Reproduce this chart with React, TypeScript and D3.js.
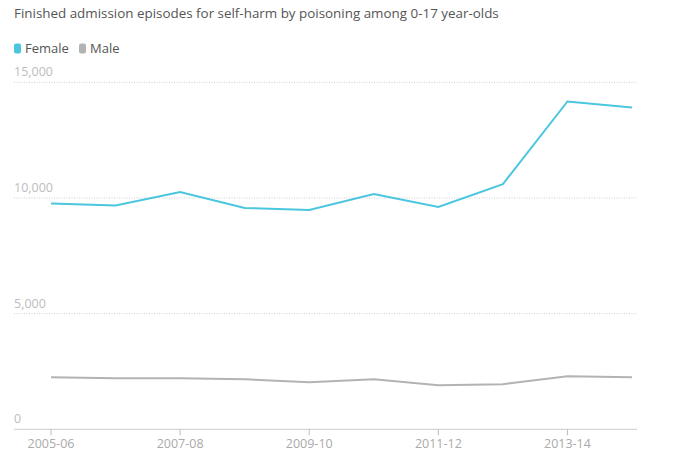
import React from 'react';
import * as d3 from 'd3';

const years = ['2005-06', '2006-07', '2007-08', '2008-09', '2009-10', '2010-11', '2011-12', '2012-13', '2013-14', '2014-15'];
const female = [9760, 9670, 10260, 9570, 9480, 10170, 9610, 10600, 14170, 13910];
const male = [2250, 2210, 2210, 2160, 2030, 2160, 1900, 1950, 2290, 2250];
const yTicks = [0, 5000, 10000, 15000];
const xTickLabels = ['2005-06', '2007-08', '2009-10', '2011-12', '2013-14'];

const W = 675;
const H = 459;
const FONT = '"Open Sans", "DejaVu Sans", sans-serif';

export default function App() {
    const left = 14;
    const right = 637;
    const x = d3.scalePoint<string>()
        .domain(years)
        .range([51, 632]);
    const y = d3.scaleLinear()
        .domain([0, 15000])
        .range([429.3, 82.3]);

    const line = d3.line<number>()
        .x((_, i) => x(years[i]) as number)
        .y(d => y(d));

    const fmt = d3.format(',');

    return (
        <svg width={W} height={H} style={{ position: 'absolute', left: 0, top: 0, fontFamily: FONT }}>
            <rect width={W} height={H} fill="#fff" />
            <text x={14} y={18} fontSize={13.4} fill="#555">Finished admission episodes for self-harm by poisoning among 0-17 year-olds</text>

            {/* legend */}
            <rect x={14} y={43.5} width={7} height={10} rx={2} fill="#4bc6df" />
            <text x={25} y={53} fontSize={13} fill="#555">Female</text>
            <rect x={79} y={43.5} width={7} height={10} rx={2} fill="#b3b3b3" />
            <text x={90} y={53} fontSize={13} fill="#555">Male</text>

            {/* grid */}
            {yTicks.map(t => (
                <g key={t}>
                    {t > 0 && (
                        <line x1={left} x2={right} y1={y(t)} y2={y(t)} stroke="#cfcfcf" strokeWidth={1} strokeDasharray="1,1.5" />
                    )}
                    <text x={left} y={y(t) - 6} fontSize={12.5} fill="#bdbdbd">{fmt(t)}</text>
                </g>
            ))}

            {/* x axis */}
            <line x1={left} x2={right} y1={y(0)} y2={y(0)} stroke="#cccccc" strokeWidth={1} />
            {xTickLabels.map(l => (
                <g key={l}>
                    <line x1={x(l)} x2={x(l)} y1={y(0)} y2={y(0) + 6} stroke="#bdbdbd" />
                    <text x={x(l)} y={448} fontSize={12.5} fill="#aaa" textAnchor="middle">{l}</text>
                </g>
            ))}

            <path d={line(male) || ''} fill="none" stroke="#b3b3b3" strokeWidth={2} />
            <path d={line(female) || ''} fill="none" stroke="#4bc6df" strokeWidth={2} />
        </svg>
    );
}
